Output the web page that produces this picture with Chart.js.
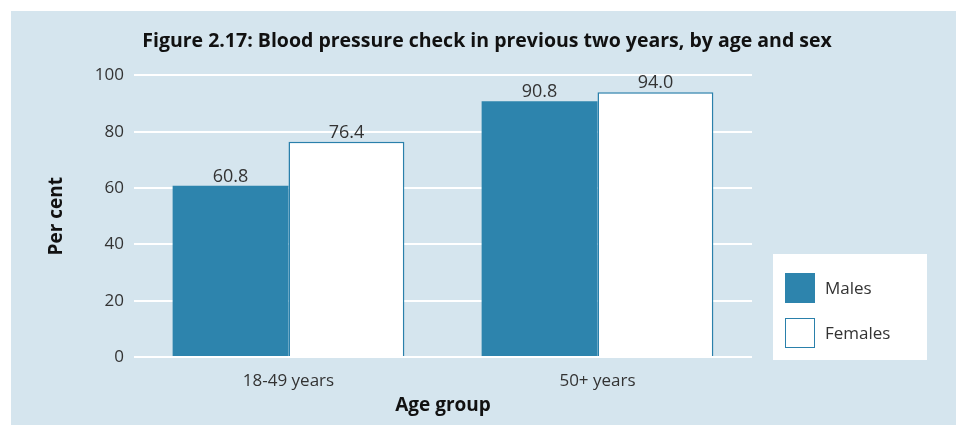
<!DOCTYPE html>
<html>
<head>
<meta charset="utf-8">
<title>Figure 2.17</title>
<script src="https://cdn.jsdelivr.net/npm/chart.js@4/dist/chart.umd.min.js"></script>
<style>
  html, body { margin: 0; padding: 0; background: #ffffff; }
  #wrap { position: relative; width: 960px; height: 425px; }
</style>
</head>
<body>
<div id="wrap"><canvas id="chart" width="960" height="425"></canvas></div>
<script>
  // Chart data
  var categories = ['18-49 years', '50+ years'];
  var males = [60.8, 90.8];
  var females = [76.4, 94.0];
  var seriesLabels = ['Males', 'Females'];
  var yMin = 0, yMax = 100, yStep = 20;

  var PANEL = '#d5e5ee';
  var BLUE = '#2d84ad';
  var FONT = '"Open Sans", "DejaVu Sans", sans-serif';

  // light blue panel behind everything
  var panelBg = {
    id: 'panelBg',
    beforeDraw: function (chart) {
      var ctx = chart.ctx;
      ctx.save();
      ctx.fillStyle = PANEL;
      ctx.fillRect(11, 11, 945, 414);
      ctx.restore();
    }
  };

  // numbers above each bar
  var valueLabels = {
    id: 'valueLabels',
    afterDatasetsDraw: function (chart) {
      var ctx = chart.ctx;
      ctx.save();
      ctx.font = '18px ' + FONT;
      ctx.fillStyle = '#333333';
      ctx.textAlign = 'center';
      ctx.textBaseline = 'alphabetic';
      chart.data.datasets.forEach(function (ds, i) {
        chart.getDatasetMeta(i).data.forEach(function (bar, j) {
          ctx.fillText(ds.data[j].toFixed(1), bar.x, bar.y - 4);
        });
      });
      ctx.restore();
    }
  };

  // boxed legend to the right of the plot
  var boxLegend = {
    id: 'boxLegend',
    afterDraw: function (chart) {
      var ctx = chart.ctx;
      var area = chart.chartArea;
      var x = area.right + 21, y = area.bottom - 103;
      ctx.save();
      ctx.fillStyle = '#ffffff';
      ctx.fillRect(x, y, 154, 106);
      ctx.font = '17px ' + FONT;
      ctx.textBaseline = 'middle';
      ctx.textAlign = 'left';
      chart.data.datasets.forEach(function (ds, i) {
        var sy = y + 19 + i * 45;
        ctx.fillStyle = ds.backgroundColor;
        ctx.fillRect(x + 12, sy, 30, 30);
        if (ds.borderWidth) {
          ctx.strokeStyle = ds.borderColor;
          ctx.lineWidth = 1;
          ctx.strokeRect(x + 12.5, sy + 0.5, 29, 29);
        }
        ctx.fillStyle = '#333333';
        ctx.fillText(ds.label, x + 52, sy + 16);
      });
      ctx.restore();
    }
  };

  new Chart(document.getElementById('chart'), {
    type: 'bar',
    data: {
      labels: categories,
      datasets: [
        { label: seriesLabels[0], data: males, backgroundColor: BLUE, borderWidth: 0 },
        { label: seriesLabels[1], data: females, backgroundColor: '#ffffff', borderColor: '#2a80ab', borderWidth: 1.5 }
      ]
    },
    options: {
      responsive: false,
      animation: false,
      categoryPercentage: 0.75,
      barPercentage: 1,
      layout: { padding: { left: 14, right: 0, top: 0, bottom: 0 } },
      plugins: {
        legend: { display: false },
        tooltip: { enabled: false },
        title: {
          display: true,
          text: 'Figure 2.17: Blood pressure check in previous two years, by age and sex',
          color: '#111111',
          font: { family: FONT, size: 19.5, weight: 'bold' },
          padding: { top: 30, bottom: 22 }
        }
      },
      scales: {
        x: {
          grid: { display: false },
          border: { display: false },
          ticks: { color: '#333333', font: { family: FONT, size: 17 }, padding: 6 },
          title: {
            display: true,
            text: 'Age group',
            color: '#111111',
            font: { family: FONT, size: 19, weight: 'bold' },
            padding: { top: 2, bottom: 8 }
          },
          afterFit: function (s) { s.height = 68; }
        },
        y: {
          min: yMin,
          max: yMax,
          grid: { color: '#ffffff', lineWidth: 2, drawTicks: false },
          border: { display: false },
          ticks: { stepSize: yStep, color: '#333333', font: { family: FONT, size: 17 }, padding: 10 },
          title: {
            display: true,
            text: 'Per cent',
            color: '#111111',
            font: { family: FONT, size: 19, weight: 'bold' },
            padding: { top: 31, bottom: 0 }
          },
          afterFit: function (s) { s.width = 120; }
        },
        // empty right-hand axis that reserves room for the legend box
        legendSpace: {
          type: 'linear',
          position: 'right',
          grid: { display: false },
          border: { display: false },
          ticks: { display: false },
          afterFit: function (s) { s.width = 208; }
        }
      }
    },
    plugins: [panelBg, valueLabels, boxLegend]
  });
</script>
</body>
</html>
